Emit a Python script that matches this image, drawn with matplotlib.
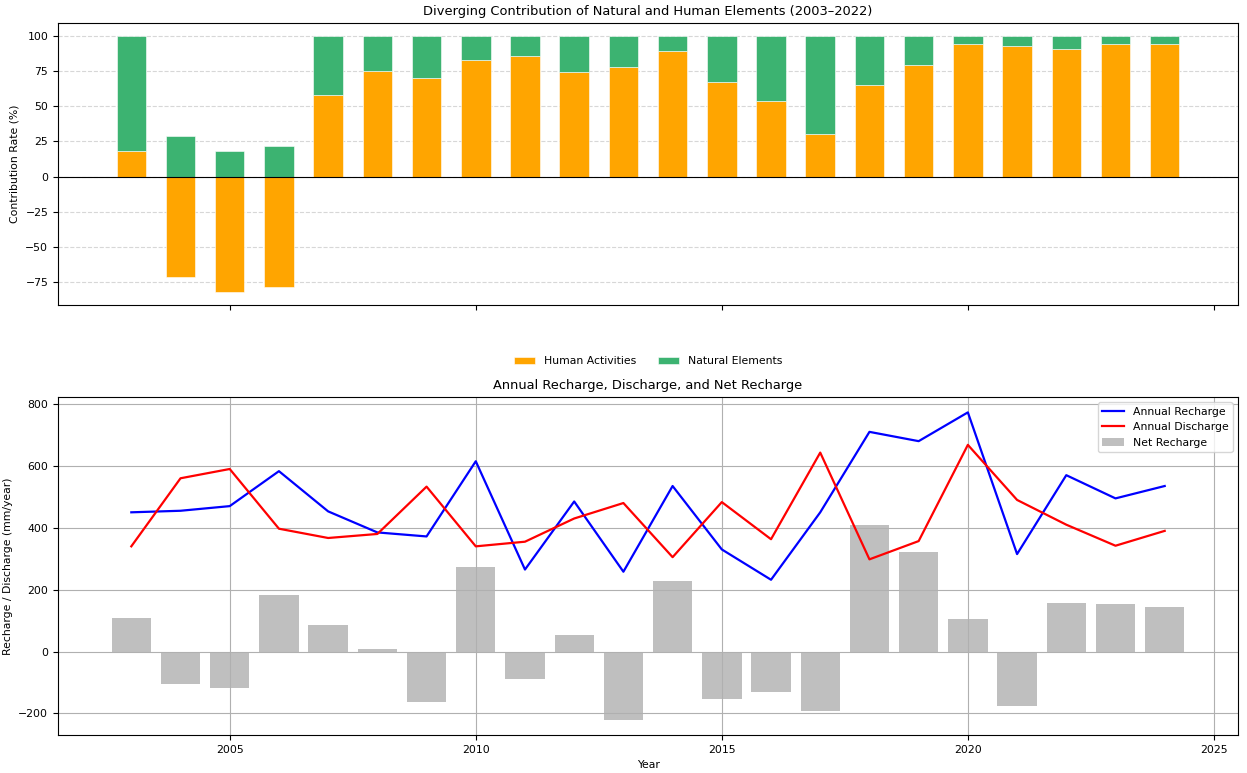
import numpy as np
import matplotlib.pyplot as plt

years = list(range(2003, 2025))
# contribution rates (%)
human = [18, -71, -82, -78, 58, 75, 70, 83, 86, 74, 78, 89, 67, 54, 30, 65, 79, 94, 93, 91, 94, 94]
natural = [82, 29, 18, 22, 42, 25, 30, 17, 14, 26, 22, 11, 33, 46, 70, 35, 21, 6, 7, 9, 6, 6]
# recharge / discharge (mm/year)
recharge = [450, 455, 470, 583, 453, 385, 372, 615, 265, 485, 258, 535, 330, 232, 450, 710, 680, 773, 315, 570, 495, 535]
discharge = [340, 560, 590, 397, 367, 380, 533, 340, 355, 430, 480, 305, 483, 363, 643, 298, 357, 668, 490, 410, 342, 390]
net = [110, -105, -118, 183, 85, 7, -162, 273, -88, 52, -220, 228, -152, -132, -193, 410, 323, 105, -175, 157, 153, 145]

fs = 7.8
fig, (ax1, ax2) = plt.subplots(2, 1, figsize=(12.47, 7.73), sharex=True)
ax1.set_position([0.0465, 0.6054, 0.9463, 0.3648])
ax2.set_position([0.0465, 0.0492, 0.9463, 0.4372])

# top: diverging stacked bars
nat_bottom = [h if h > 0 else 0 for h in human]
ax1.bar(years, human, width=0.6, color="orange", edgecolor="white", linewidth=0.4, label="Human Activities")
ax1.bar(years, natural, width=0.6, bottom=nat_bottom, color="mediumseagreen", edgecolor="white",
        linewidth=0.4, label="Natural Elements")
ax1.axhline(0, color="black", linewidth=0.8)
ax1.set_ylabel("Contribution Rate (%)", fontsize=fs)
ax1.set_title("Diverging Contribution of Natural and Human Elements (2003–2022)", fontsize=9.4)
ax1.grid(axis="y", linestyle="--", alpha=0.5)
ax1.set_axisbelow(True)
ax1.legend(loc="center", bbox_to_anchor=(0.5, -0.2), ncol=2, frameon=False, fontsize=fs)
ax1.tick_params(labelsize=fs)

# bottom: lines + net bars
ax2.plot(years, recharge, color="blue", linewidth=1.6, label="Annual Recharge")
ax2.plot(years, discharge, color="red", linewidth=1.6, label="Annual Discharge")
ax2.bar(years, net, width=0.8, color="gray", alpha=0.5, label="Net Recharge")
ax2.set_xlabel("Year", fontsize=fs)
ax2.set_ylabel("Recharge / Discharge (mm/year)", fontsize=fs)
ax2.set_title("Annual Recharge, Discharge, and Net Recharge", fontsize=9.4)
ax2.grid(True)
ax2.legend(loc="upper right", fontsize=fs)
ax2.tick_params(labelsize=fs)

plt.savefig("out.png", dpi=100)
